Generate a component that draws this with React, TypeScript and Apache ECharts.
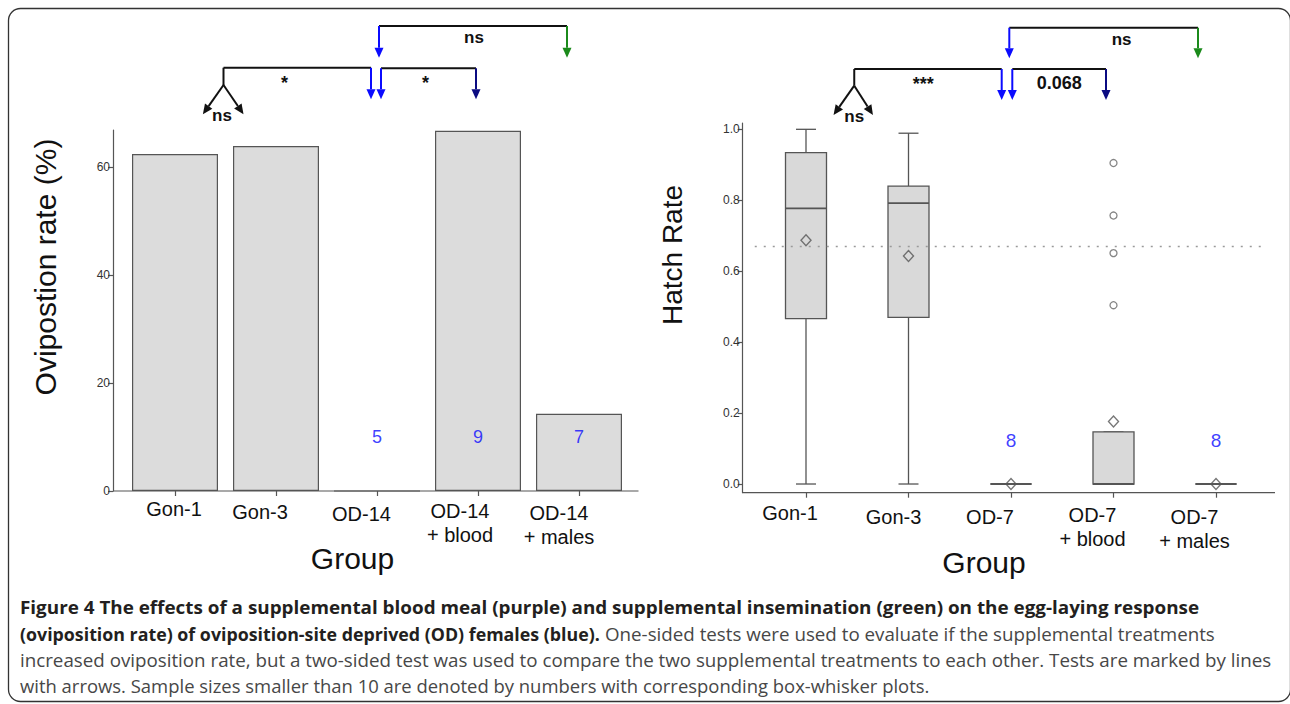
import React, { useEffect, useRef } from "react";
import * as echarts from "echarts";

// ---------------- data: left panel (oviposition rate, %) ----------------
const ovGroups = ["Gon-1", "Gon-3", "OD-14", "OD-14\n+ blood", "OD-14\n+ males"];
const ovRate = [62.4, 63.9, 0, 66.7, 14.3];
const ovSampleSize: (number | null)[] = [null, null, 5, 9, 7];
const ovTicks = [0, 20, 40, 60];

// ---------------- data: right panel (hatch rate) ----------------
const hrGroups = ["Gon-1", "Gon-3", "OD-7", "OD-7\n+ blood", "OD-7\n+ males"];
const hrMin = [0, 0, 0, 0, 0];
const hrQ1 = [0.466, 0.47, 0, 0, 0];
const hrMedian = [0.777, 0.792, 0, 0, 0];
const hrQ3 = [0.934, 0.84, 0, 0.147, 0];
const hrMax = [1.0, 0.989, 0, 0.147, 0];
const hrMean = [0.687, 0.643, 0, 0.176, 0];
const hrOutlierGroup = [3, 3, 3, 3];
const hrOutlierValue = [0.905, 0.757, 0.651, 0.504];
const hrSampleSize: (number | null)[] = [null, null, 8, null, 8];
const hrTicks = [0, 0.2, 0.4, 0.6, 0.8, 1.0];
const hrReference = 0.668;

// ---------------- text ----------------
const ovYTitle = "Ovipostion rate (%)";
const hrYTitle = "Hatch Rate";
const xTitle = "Group";
const capL1 =
  "Figure 4 The effects of a supplemental blood meal (purple) and supplemental insemination (green) on the egg-laying response";
const capL2b = "(oviposition rate) of oviposition-site deprived (OD) females (blue).";
const capL2n = "One-sided tests were used to evaluate if the supplemental treatments";
const capL3 =
  "increased oviposition rate, but a two-sided test was used to compare the two supplemental treatments to each other. Tests are marked by lines";
const capL4 =
  "with arrows. Sample sizes smaller than 10 are denoted by numbers with corresponding box-whisker plots.";

// ---------------- layout / style ----------------
const FONT = '"Liberation Sans", Arial, Helvetica, sans-serif';
const CAP_FONT = '"Open Sans", "Noto Sans", sans-serif';
const AX = "#555";
const BLUE = "#0b0bff";
const GREEN = "#1b8a1b";
const NAVY = "#0b0b82";
const LG = { left: 124.5, top: 130, width: 505, height: 361, axisX: 113, axisEnd: 638.5 };
const RG = { left: 754.75, top: 123, width: 512.5, height: 369.7, axisX: 742.7, axisEnd: 1275 };
const OV_MAX = LG.height / 5.4;
const HR_MIN = -0.0245;
const HR_MAX = 1.0178;
const OV_N_Y = 10;
const HR_N_Y = 0.124;
const LEFT_SHIFT = [1, 16, 15.5, 18, 20];
const LEFT_PADTOP = [0, 3, 5, 2, 4];
const RIGHT_SHIFT = [16, 15, 21, 21, 21.5];
const RIGHT_PADTOP = [0, 4, 3.5, 2, 4];

function catData(names: string[], shift: number[], padTop: number[]) {
  return names.map((n, i) => ({
    value: n,
    textStyle: { padding: [padTop[i], Math.max(0, 2 * shift[i]), 0, 0] },
  }));
}

function arrowEls(x1: number, y1: number, x2: number, y2: number, color: string, lw = 2, hl = 10, hw = 9) {
  const dx = x2 - x1;
  const dy = y2 - y1;
  const len = Math.hypot(dx, dy);
  const ux = dx / len;
  const uy = dy / len;
  const bx = x2 - ux * hl;
  const by = y2 - uy * hl;
  const px = -uy;
  const py = ux;
  return [
    { type: "line", shape: { x1, y1, x2: bx, y2: by }, style: { stroke: color, lineWidth: lw } },
    {
      type: "polygon",
      shape: {
        points: [
          [x2, y2],
          [bx + (px * hw) / 2, by + (py * hw) / 2],
          [bx - (px * hw) / 2, by - (py * hw) / 2],
        ],
      },
      style: { fill: color },
    },
  ];
}

function hline(x1: number, x2: number, y: number) {
  return { type: "line", shape: { x1, y1: y, x2, y2: y }, style: { stroke: "#111", lineWidth: 2 } };
}

function label(text: string, x: number, y: number, size = 17) {
  return {
    type: "text",
    x,
    y,
    style: { text, fontSize: size, fontWeight: "bold", fontFamily: FONT, fill: "#111", align: "center", verticalAlign: "middle" },
  };
}

function measure(text: string, font: string) {
  const ctx = document.createElement("canvas").getContext("2d")!;
  ctx.font = font;
  return ctx.measureText(text).width;
}

function buildGraphics(cL: number[], cR: number[]) {
  const els: any[] = [];
  // frame
  els.push({
    type: "rect",
    z: -10,
    shape: { x: 8.5, y: 8.5, width: 1282, height: 693, r: 12 },
    style: { fill: "none", stroke: "#333", lineWidth: 1.3 },
  });
  // x-axis lines
  els.push({ type: "line", shape: { x1: LG.axisX, y1: LG.top + LG.height, x2: LG.axisEnd, y2: LG.top + LG.height }, style: { stroke: AX, lineWidth: 1.2 } });
  els.push({ type: "line", shape: { x1: RG.axisX, y1: RG.top + RG.height, x2: RG.axisEnd, y2: RG.top + RG.height }, style: { stroke: AX, lineWidth: 1.2 } });

  // axis titles
  els.push({ type: "text", x: 45, y: 267, rotation: Math.PI / 2, style: { text: ovYTitle, fontSize: 30, fontFamily: FONT, fill: "#111", align: "center", verticalAlign: "middle" } });
  els.push({ type: "text", x: 672, y: 255, rotation: Math.PI / 2, style: { text: hrYTitle, fontSize: 28, fontFamily: FONT, fill: "#111", align: "center", verticalAlign: "middle" } });
  els.push({ type: "text", x: 352.5, y: 558, style: { text: xTitle, fontSize: 30, fontFamily: FONT, fill: "#111", align: "center", verticalAlign: "middle" } });
  els.push({ type: "text", x: 984, y: 562.5, style: { text: xTitle, fontSize: 30, fontFamily: FONT, fill: "#111", align: "center", verticalAlign: "middle" } });

  // ---- left annotations
  {
    const ya = 26, tipA = 57.7;
    const xa = cL[2] + 2, xb = cL[4] - 12;
    els.push(hline(xa, xb, ya));
    els.push(...arrowEls(xa, ya, xa, tipA, BLUE));
    els.push(...arrowEls(xb, ya, xb, tipA, GREEN));
    els.push(label("ns", (xa + xb) / 2 + 1, 37));

    const yb = 67.7, tipB = 99.3;
    const xf = (cL[0] + cL[1]) / 2 - 2, xe = cL[2] - 6;
    els.push(hline(xf, xe, yb));
    els.push(...arrowEls(xe, yb, xe, tipB, BLUE));
    els.push({ type: "line", shape: { x1: xf, y1: yb, x2: xf, y2: 85 }, style: { stroke: "#111", lineWidth: 2 } });
    els.push(...arrowEls(xf, 85, xf - 20.6, 114.3, "#111"));
    els.push(...arrowEls(xf, 85, xf + 20, 114.3, "#111"));
    els.push(label("ns", xf - 1.5, 115));
    els.push(label("*", xf + 61, 83, 18));

    const xs = cL[2] + 4, xt = cL[3] - 2;
    els.push(hline(xs, xt, 68.3));
    els.push(...arrowEls(xs, 68.3, xs, tipB, BLUE));
    els.push(...arrowEls(xt, 68.3, xt, tipB, NAVY));
    els.push(label("*", (xs + xt) / 2 - 3, 83, 18));
  }
  // ---- right annotations
  {
    const ya = 27.7, tipA = 58.3;
    const xa = cR[2] - 1.7, xb = cR[4] - 18;
    els.push(hline(xa, xb, ya));
    els.push(...arrowEls(xa, ya, xa, tipA, BLUE));
    els.push(...arrowEls(xb, ya, xb, tipA, GREEN));
    els.push(label("ns", (xa + xb) / 2 + 18, 39));

    const yb = 69, tipB = 100;
    const xf = (cR[0] + cR[1]) / 2 - 3, xe = cR[2] - 9.3;
    els.push(hline(xf, xe, yb));
    els.push(...arrowEls(xe, yb, xe, tipB, BLUE));
    els.push({ type: "line", shape: { x1: xf, y1: yb, x2: xf, y2: 85.7 }, style: { stroke: "#111", lineWidth: 2 } });
    els.push(...arrowEls(xf, 85.7, xf - 20.7, 115, "#111"));
    els.push(...arrowEls(xf, 85.7, xf + 18.7, 115, "#111"));
    els.push(label("ns", xf, 116.7));
    els.push(label("***", xf + 69, 84, 18));

    const xs = cR[2] + 1.3, xt = cR[3] - 7.5;
    els.push(hline(xs, xt, yb));
    els.push(...arrowEls(xs, yb, xs, tipB, BLUE));
    els.push(...arrowEls(xt, yb, xt, tipB, NAVY));
    els.push(label("0.068", (xs + xt) / 2, 83.3, 18));
  }

  // ---- caption (each line fitted to its width in the reference)
  const size = 18;
  const bFont = `bold ${size}px ${CAP_FONT}`;
  const nFont = `${size}px ${CAP_FONT}`;
  const capText = (text: string, x0: number, x1: number, y: number, bold: boolean) => ({
    type: "text",
    x: x0,
    y,
    scaleX: (x1 - x0) / measure(text, bold ? bFont : nFont),
    scaleY: 1,
    style: {
      text,
      fontSize: size,
      fontFamily: CAP_FONT,
      fontWeight: bold ? "bold" : "normal",
      fill: bold ? "#231f20" : "#474747",
      align: "left",
      verticalAlign: "middle",
    },
  });
  els.push(capText(capL1, 20, 1200, 607, true));
  els.push(capText(capL2b, 20, 600, 633.5, true));
  els.push(capText(capL2n, 605, 1215, 633.5, false));
  els.push(capText(capL3, 20, 1272, 660, false));
  els.push(capText(capL4, 20, 930, 686.5, false));
  return els;
}

export default function App() {
  const ref = useRef<HTMLDivElement>(null);
  useEffect(() => {
    document.body.style.margin = "0";
    const chart = echarts.init(ref.current!, undefined, { renderer: "svg" });
    const axisTick = { show: true, length: 5, lineStyle: { color: AX, width: 1.2 } };
    const xLabel = { interval: 0, margin: 6, fontSize: 20, lineHeight: 24, color: "#111", fontFamily: FONT };
    const option: any = {
      animation: false,
      backgroundColor: "#fff",
      textStyle: { fontFamily: FONT },
      grid: [
        { left: LG.left, top: LG.top, width: LG.width, height: LG.height },
        { left: RG.left, top: RG.top, width: RG.width, height: RG.height },
      ],
      xAxis: [
        {
          type: "category",
          gridIndex: 0,
          data: catData(ovGroups, LEFT_SHIFT, LEFT_PADTOP),
          axisLine: { show: false },
          axisTick: { ...axisTick, alignWithLabel: true },
          axisLabel: { ...xLabel, margin: 6 },
          splitLine: { show: false },
        },
        {
          type: "category",
          gridIndex: 1,
          data: catData(hrGroups, RIGHT_SHIFT, RIGHT_PADTOP),
          axisLine: { show: false, onZero: false },
          axisTick: { ...axisTick, alignWithLabel: true },
          axisLabel: { ...xLabel, margin: 8.6 },
          splitLine: { show: false },
        },
      ],
      yAxis: [
        {
          type: "value",
          gridIndex: 0,
          min: 0,
          max: OV_MAX,
          offset: LG.left - LG.axisX,
          axisLine: { show: true, lineStyle: { color: AX, width: 1.2 } },
          axisTick: { ...axisTick, customValues: ovTicks },
          axisLabel: { customValues: ovTicks, fontSize: 12, color: "#333", margin: 3, fontFamily: FONT },
          splitLine: { show: false },
        },
        {
          type: "value",
          gridIndex: 1,
          min: HR_MIN,
          max: HR_MAX,
          offset: RG.left - RG.axisX,
          axisLine: { show: true, lineStyle: { color: AX, width: 1.2 } },
          axisTick: { ...axisTick, customValues: hrTicks },
          axisLabel: {
            customValues: hrTicks,
            fontSize: 12,
            color: "#333",
            margin: 3,
            fontFamily: FONT,
            formatter: (v: number) => v.toFixed(1),
          },
          splitLine: { show: false },
        },
      ],
      series: [
        {
          type: "bar",
          xAxisIndex: 0,
          yAxisIndex: 0,
          data: ovRate,
          barWidth: 86,
          silent: true,
          itemStyle: { color: "#dcdcdc", borderColor: AX, borderWidth: 1.2 },
        },
        {
          type: "scatter",
          xAxisIndex: 0,
          yAxisIndex: 0,
          silent: true,
          symbolSize: 1,
          itemStyle: { color: "rgba(0,0,0,0)" },
          data: ovSampleSize.flatMap((n, i) => (n == null ? [] : [[i, OV_N_Y, n]])),
          label: {
            show: true,
            position: "inside",
            formatter: (p: any) => String(p.value[2]),
            fontSize: 18,
            color: BLUE,
            fontFamily: FONT,
          },
        },
        {
          type: "custom",
          xAxisIndex: 1,
          yAxisIndex: 1,
          silent: true,
          encode: { x: 0, y: [1, 2, 3, 4, 5] },
          data: hrGroups.map((_, i) => [i, hrMin[i], hrQ1[i], hrMedian[i], hrQ3[i], hrMax[i]]),
          renderItem: (params: any, api: any) => {
            const i = api.value(0);
            const band = api.size([1, 0])[0];
            const bw = band * 0.4;
            const cw = band * 0.195;
            const pMin = api.coord([i, api.value(1)]);
            const cx = pMin[0];
            const yMin = pMin[1];
            const yQ1 = api.coord([i, api.value(2)])[1];
            const yMed = api.coord([i, api.value(3)])[1];
            const yQ3 = api.coord([i, api.value(4)])[1];
            const yMax = api.coord([i, api.value(5)])[1];
            const st = { stroke: AX, lineWidth: 1.3 };
            return {
              type: "group",
              children: [
                { type: "line", shape: { x1: cx, y1: yMax, x2: cx, y2: yQ3 }, style: st },
                { type: "line", shape: { x1: cx, y1: yQ1, x2: cx, y2: yMin }, style: st },
                { type: "line", shape: { x1: cx - cw / 2, y1: yMax, x2: cx + cw / 2, y2: yMax }, style: st },
                { type: "line", shape: { x1: cx - cw / 2, y1: yMin, x2: cx + cw / 2, y2: yMin }, style: st },
                {
                  type: "polygon",
                  shape: {
                    points: [
                      [cx - bw / 2, yQ3],
                      [cx + bw / 2, yQ3],
                      [cx + bw / 2, yQ1],
                      [cx - bw / 2, yQ1],
                    ],
                  },
                  style: { fill: "#d9d9d9", stroke: AX, lineWidth: 1.3 },
                },
                { type: "line", shape: { x1: cx - bw / 2, y1: yMed, x2: cx + bw / 2, y2: yMed }, style: { stroke: AX, lineWidth: 1.8 } },
              ],
            };
          },
        },
        {
          type: "scatter",
          xAxisIndex: 1,
          yAxisIndex: 1,
          silent: true,
          symbol: "diamond",
          symbolSize: [10, 11],
          itemStyle: { color: "rgba(0,0,0,0)", borderColor: AX, borderWidth: 1.4 },
          data: hrMean.map((m, i) => [i, m]),
          z: 5,
          markLine: {
            silent: true,
            symbol: "none",
            label: { show: false },
            lineStyle: { color: "#9a9a9a", type: [2, 7], width: 1.3 },
            data: [{ yAxis: hrReference }],
          },
        },
        {
          type: "scatter",
          xAxisIndex: 1,
          yAxisIndex: 1,
          silent: true,
          symbol: "circle",
          symbolSize: 7,
          itemStyle: { color: "rgba(0,0,0,0)", borderColor: "#666", borderWidth: 1.3 },
          data: hrOutlierValue.map((v, k) => [hrOutlierGroup[k], v]),
          z: 5,
        },
        {
          type: "scatter",
          xAxisIndex: 1,
          yAxisIndex: 1,
          silent: true,
          symbolSize: 1,
          itemStyle: { color: "rgba(0,0,0,0)" },
          data: hrSampleSize.flatMap((n, i) => (n == null ? [] : [[i, HR_N_Y, n]])),
          label: {
            show: true,
            position: "inside",
            formatter: (p: any) => String(p.value[2]),
            fontSize: 19,
            color: BLUE,
            fontFamily: FONT,
          },
        },
      ],
    };
    chart.setOption(option);
    const cL = [0, 1, 2, 3, 4].map((i) => chart.convertToPixel({ xAxisIndex: 0 } as any, i) as unknown as number);
    const cR = [0, 1, 2, 3, 4].map((i) => chart.convertToPixel({ xAxisIndex: 1 } as any, i) as unknown as number);
    chart.setOption({ graphic: buildGraphics(cL, cR) });
    return () => chart.dispose();
  }, []);
  return <div ref={ref} style={{ width: 1290, height: 704, overflow: "hidden" }} />;
}
